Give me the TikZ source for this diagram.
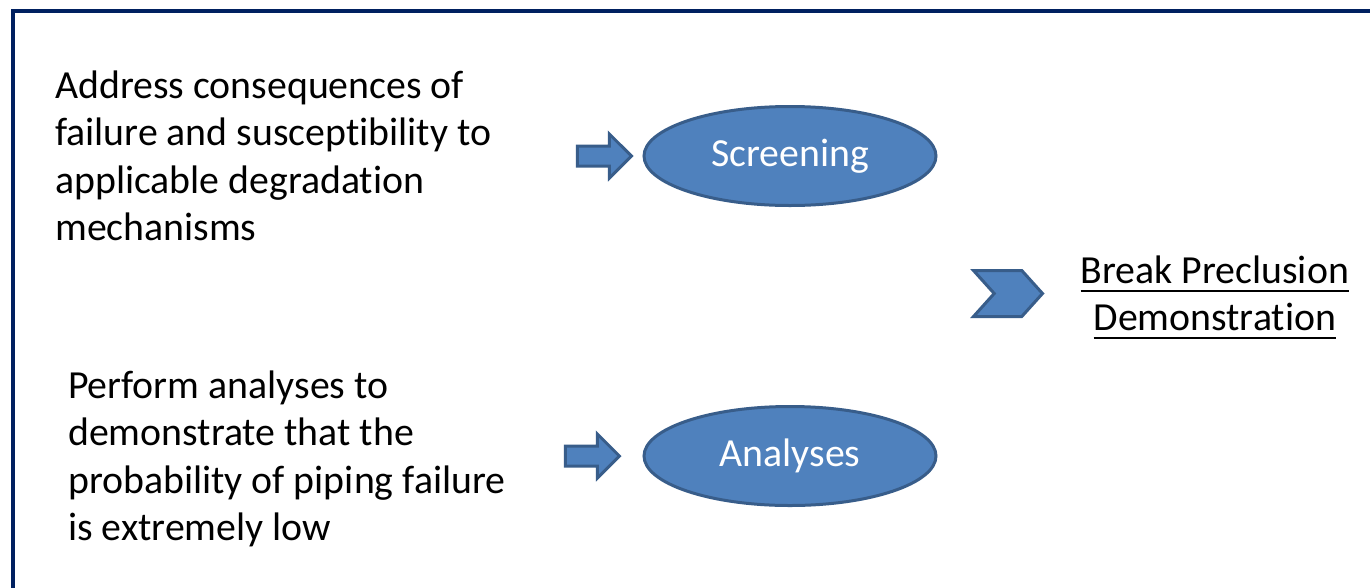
\documentclass[tikz,border=0pt]{standalone}
\usepackage{fontspec}
\setmainfont{Carlito}[Ligatures=NoCommon]
\usetikzlibrary{shapes.geometric, shapes.arrows, shapes.symbols, positioning}
\definecolor{boxblue}{HTML}{4F81BD}
\definecolor{edgeblue}{HTML}{385D8A}
\definecolor{framenavy}{HTML}{002060}
\newcommand{\ultext}[1]{\leavevmode\setbox0\hbox{#1}\copy0\llap{\rule[-9pt]{\wd0}{2pt}}}

\begin{document}
\begin{tikzpicture}[
  x=1pt, y=-1pt,
  txt/.style={align=left, inner sep=0pt, anchor=base west, font=\fontsize{39.8}{47.5}\selectfont},
  ell/.style={ellipse, draw=edgeblue, fill=boxblue, line width=3pt, minimum width=292pt, minimum height=99pt, text=white, font=\fontsize{39.8}{47.5}\selectfont},
  harrow/.style={single arrow, draw=edgeblue, fill=boxblue, line width=3pt, minimum height=54pt, single arrow head extend=12pt, single arrow head indent=0pt, inner xsep=0pt, inner ysep=8.5pt},
  chev/.style={signal, signal to=east, signal from=west, signal pointer angle=96, draw=edgeblue, fill=boxblue, line width=3pt, minimum width=69pt, minimum height=46pt, inner sep=0pt}
]
  \clip (0,0) rectangle (1370,587);
  \fill[white] (0,0) rectangle (1370,587);
  % outer frame
  \draw[framenavy, line width=4.5pt] (13,11) rectangle (1400,620);

  % 1. Ellipses
  \node[ell] (scr) at (790,156) {Screening};
  \node[ell] (ana) at (790,456) {Analyses};

  % 2. Block arrows into the ellipses
  \node[harrow, left=9pt of scr] (a1) {};
  \node[harrow, left=21pt of ana] (a2) {};

  % 3. Descriptions (anchored at the last baseline)
  \node[txt] (t1) at (55,240.5) {Address consequences of\\failure and susceptibility to\\applicable degradation\\mechanisms};
  \node[txt] (t2) at (68,540.5) {Perform analyses to\\demonstrate that the\\probability of piping failure\\is extremely low};

  % 4. Result
  \node[chev] (ch) at (1008,293.5) {};
  \node[align=center, inner sep=0pt, font=\fontsize{39.8}{47}\selectfont, right=36pt of ch, yshift=-4pt] (res) {\ultext{Break Preclusion}\\\ultext{Demonstration}};

\end{tikzpicture}
\end{document}
